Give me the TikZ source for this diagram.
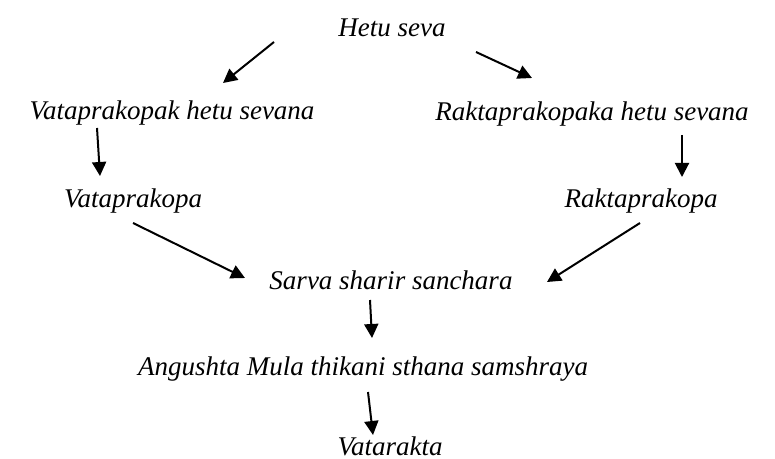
\documentclass[tikz,border=0pt]{standalone}
\usepackage{fontspec}
\setmainfont{Liberation Serif}
\usetikzlibrary{arrows.meta}

\begin{document}
\begin{tikzpicture}[
    x=0.5pt, y=-0.5pt,
    term/.style={anchor=base, inner sep=0pt, font=\itshape\fontsize{13.5}{16}\selectfont}, % Style for the terms
    arr/.style={line width=1pt, -{Triangle[length=7pt,width=7pt]}} % Style for the arrows
]
    \useasboundingbox (0,0) rectangle (775,459);

    % Terms
    \node[term] (hetu)  at (392,37)  {Hetu seva};
    \node[term] (vhetu) at (172,120) {Vataprakopak hetu sevana};
    \node[term] (rhetu) at (592,121) {Raktaprakopaka hetu sevana};
    \node[term] (vkopa) at (133,208) {Vataprakopa};
    \node[term] (rkopa) at (641,208) {Raktaprakopa};
    \node[term] (sarva) at (391,290) {Sarva sharir sanchara};
    \node[term] (angu)  at (363,375) {Angushta Mula thikani sthana samshraya};
    \node[term] (vata)  at (390,455) {Vatarakta};

    % Arrows
    \draw[arr] ([shift={(-118,5)}]hetu.base) -- ([shift={(51,-37)}]vhetu.base);
    \draw[arr] ([shift={(84,15)}]hetu.base) -- ([shift={(-60,-43)}]rhetu.base);
    \draw[arr] ([shift={(-75,8)}]vhetu.base) -- ([shift={(-33,-32)}]vkopa.base);
    \draw[arr] ([shift={(90,14)}]rhetu.base) -- ([shift={(41,-31)}]rkopa.base);
    \draw[arr] ([shift={(0,15)}]vkopa.base) -- ([shift={(-146,-12)}]sarva.base);
    \draw[arr] ([shift={(-1,15)}]rkopa.base) -- ([shift={(156,-8)}]sarva.base);
    \draw[arr] ([shift={(-21,10)}]sarva.base) -- ([shift={(9,-37)}]angu.base);
    \draw[arr] ([shift={(5,17)}]angu.base) -- ([shift={(-17,-20)}]vata.base);

\end{tikzpicture}
\end{document}
